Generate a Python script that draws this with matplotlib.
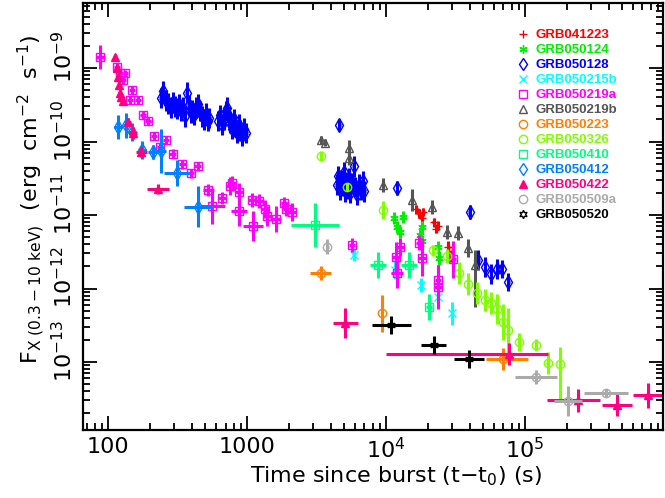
import numpy as np
import matplotlib
matplotlib.use('Agg')
import matplotlib.pyplot as plt
import matplotlib.transforms as mtransforms
from matplotlib.ticker import FixedLocator, FixedFormatter, LogLocator, NullFormatter
from matplotlib.lines import Line2D

plt.rcParams['font.family'] = ['DejaVu Sans']
plt.rcParams['mathtext.fontset'] = 'dejavusans'

# ---- data: time (s), flux (erg/cm2/s), half error widths in dex ----
grb041223_t = [1.65e4, 1.72e4, 1.8e4, 1.85e4, 2.2e4, 2.3e4, 2.35e4, 2.8e4, 2.9e4]
grb041223_f = [1.2e-11, 1.05e-11, 9.0e-12, 1.1e-11, 8.0e-12, 6.5e-12, 7.2e-12, 3.7e-12, 2.8e-12]
grb041223_tdex = [0.01] * 9
grb041223_fdex = [0.06, 0.06, 0.06, 0.06, 0.06, 0.06, 0.06, 0.08, 0.08]

grb050124_t = [1.14e4, 1.2e4, 1.26e4, 1.33e4, 1.76e4, 1.82e4, 1.8e4, 2.37e4, 2.4e4]
grb050124_f = [9.1e-12, 6.9e-12, 5.9e-12, 9.4e-12, 5.35e-12, 6.9e-12, 4.5e-12, 3.7e-12, 2.6e-12]
grb050124_tdex = [0.01] * 9
grb050124_fdex = [0.08, 0.08, 0.08, 0.08, 0.08, 0.08, 0.08, 0.08, 0.1]

grb050128_t = [240, 250, 262, 272, 282, 292, 302, 312, 322, 333, 345, 356, 368, 380, 392,
               405, 418, 432, 446, 460, 475, 490, 505, 520, 535,
               620, 640, 660, 680, 700, 720, 740, 760, 780, 800, 820, 845, 870, 895, 920,
               950, 980,
               4450, 4550, 4650, 4750, 4850, 4950, 5050, 5150, 5250, 5400, 5550, 5700,
               5850, 6000, 6200, 6400, 6600, 6800, 7000,
               4600, 1.2e4, 4.0e4, 4.6e4, 5.15e4, 5.7e4, 6.3e4, 6.8e4, 7.6e4]
grb050128_f = [3.9e-10, 4.8e-10, 3.6e-10, 3.3e-10, 2.9e-10, 3.4e-10, 3.0e-10, 2.8e-10, 3.2e-10,
               2.6e-10, 2.9e-10, 2.2e-10, 4.6e-10, 3.1e-10, 2.5e-10, 2.7e-10, 2.3e-10, 2.9e-10,
               3.2e-10, 2.6e-10, 2.2e-10, 2.0e-10, 2.4e-10, 1.9e-10, 2.1e-10,
               1.9e-10, 2.3e-10, 1.7e-10, 2.0e-10, 2.6e-10, 2.9e-10, 2.2e-10, 1.8e-10, 1.5e-10,
               2.0e-10, 1.6e-10, 1.3e-10, 1.7e-10, 1.4e-10, 1.2e-10, 1.5e-10, 1.3e-10,
               2.6e-11, 3.4e-11, 2.2e-11, 3.0e-11, 2.5e-11, 3.8e-11, 2.1e-11, 2.8e-11, 2.3e-11,
               3.2e-11, 2.0e-11, 2.7e-11, 4.6e-11, 2.4e-11, 1.9e-11, 2.6e-11, 2.2e-11, 2.9e-11,
               2.1e-11,
               1.67e-10, 2.33e-11, 1.1e-11, 2.45e-12, 1.96e-12, 1.57e-12, 1.84e-12, 1.84e-12,
               1.22e-12]
grb050128_tdex = [0.012] * 61 + [0.01, 0.01, 0.01, 0.01, 0.01, 0.01, 0.01, 0.01, 0.01]
grb050128_fdex = [0.14] * 61 + [0.08, 0.1, 0.1, 0.14, 0.14, 0.14, 0.14, 0.12, 0.12]

grb050215b_t = [5860, 1.16e4, 1.79e4, 2.37e4, 2.98e4]
grb050215b_f = [2.86e-12, 1.79e-12, 1.12e-12, 7.7e-13, 4.6e-13]
grb050215b_tdex = [0.01, 0.01, 0.01, 0.01, 0.01]
grb050215b_fdex = [0.08, 0.12, 0.1, 0.12, 0.16]

grb050219a_t = [88, 116, 122, 133, 128, 149, 144, 164, 178, 194, 214, 261, 237, 293, 341, 395,
                443, 525, 560, 660, 755, 780, 875, 875, 1085, 1100, 1220, 1340, 1390, 1610,
                1840, 1910, 2100, 5690, 1.18e4, 1.26e4, 1.2e4, 1.72e4, 1.82e4, 2.37e4, 2.37e4,
                3.03e4]
grb050219a_f = [1.4e-9, 1.03e-9, 8.5e-10, 8.5e-10, 6.9e-10, 5.0e-10, 3.67e-10, 3.67e-10, 2.3e-10,
                1.9e-10, 1.19e-10, 1.05e-10, 8.4e-11, 6.8e-11, 4.9e-11, 3.7e-11, 4.6e-11,
                2.19e-11, 1.33e-11, 1.7e-11, 2.5e-11, 2.7e-11, 2.06e-11, 1.13e-11, 1.6e-11,
                7.1e-12, 1.55e-11, 1.21e-11, 9.7e-12, 8.8e-12, 1.46e-11, 1.21e-11, 1.1e-11,
                3.9e-12, 2.7e-12, 3.7e-12, 1.63e-12, 4.2e-12, 2.6e-12, 1.3e-12, 1.05e-12, 2.5e-12]
grb050219a_tdex = [0.03, 0.02, 0.02, 0.02, 0.02, 0.02, 0.02, 0.02, 0.02, 0.02, 0.02, 0.02, 0.02,
                   0.025, 0.025, 0.025, 0.025, 0.04, 0.09, 0.03, 0.03, 0.03, 0.03, 0.06, 0.03,
                   0.07, 0.03, 0.03, 0.03, 0.04, 0.02, 0.02, 0.03, 0.02, 0.03, 0.03, 0.04, 0.02,
                   0.03, 0.02, 0.03, 0.02]
grb050219a_fdex = [0.16, 0.05, 0.05, 0.05, 0.05, 0.05, 0.05, 0.05, 0.05, 0.05, 0.06, 0.06, 0.06,
                   0.06, 0.06, 0.06, 0.06, 0.08, 0.25, 0.08, 0.12, 0.1, 0.12, 0.2, 0.1, 0.2,
                   0.1, 0.12, 0.14, 0.18, 0.08, 0.1, 0.12, 0.1, 0.2, 0.12, 0.2, 0.1, 0.25, 0.2,
                   0.3, 0.25]

grb050219b_t = [3400, 3650, 5420, 5420, 9500, 1.54e4, 2.14e4, 2.75e4, 3.3e4, 3.9e4, 4.4e4]
grb050219b_f = [1.05e-10, 9.6e-11, 8.2e-11, 6.0e-11, 2.56e-11, 1.6e-11, 1.29e-11, 5.9e-12,
                5.7e-12, 3.56e-12, 2.09e-12]
grb050219b_tdex = [0.01] * 11
grb050219b_fdex = [0.05, 0.05, 0.1, 0.1, 0.1, 0.15, 0.1, 0.1, 0.1, 0.12, (0.57, 0.2)]

grb050223_t = [3400, 9350, 6.95e4]
grb050223_f = [1.63e-12, 4.6e-13, 1.1e-13]
grb050223_tdex = [0.075, 0.01, (0.12, 0.18)]
grb050223_fdex = [0.1, 0.25, 0.15]

grb050326_t = [3400, 5240, 9500, 2.18e4, 2.75e4, 3.35e4, 3.9e4, 4.5e4, 5.15e4, 5.7e4, 6.3e4,
               6.9e4, 7.6e4, 9.06e4, 1.2e5, 1.46e5, 1.79e5]
grb050326_f = [6.4e-11, 2.4e-11, 1.17e-11, 3.3e-12, 2.77e-12, 1.63e-12, 1.15e-12, 8.7e-13,
               7.0e-13, 6.3e-13, 5.3e-13, 3.5e-13, 2.7e-13, 1.87e-13, 1.7e-13, 9.7e-14, 9.4e-14]
grb050326_tdex = [0.01] * 17
grb050326_fdex = [0.07, 0.05, 0.12, 0.08, 0.1, 0.15, 0.15, 0.15, 0.15, 0.15, 0.2, 0.25, 0.3,
                  0.12, 0.08, 0.15, (0.49, 0.23)]

grb050410_t = [3080, 8750, 1.46e4, 2.04e4]
grb050410_f = [7.3e-12, 2.09e-12, 2.09e-12, 5.6e-13]
grb050410_tdex = [0.17, 0.06, 0.06, 0.02]
grb050410_fdex = [0.3, 0.18, 0.18, 0.18]

grb050412_t = [118, 135, 149, 176, 211, 240, 313, 443]
grb050412_f = [1.57e-10, 1.67e-10, 1.35e-10, 7.7e-11, 7.2e-11, 7.4e-11, 3.7e-11, 1.29e-11]
grb050412_tdex = [0.03, 0.02, 0.03, 0.03, 0.04, 0.04, 0.09, 0.1]
grb050412_fdex = [0.16, 0.17, 0.12, 0.12, 0.1, 0.3, 0.18, 0.28]

grb050422_t = [112, 115, 117, 119, 121, 124, 128, 139, 151, 173, 229, 5070, 7.7e4, 2.4e5,
               4.6e5, 7.7e5]
grb050422_f = [1.4e-9, 1.0e-9, 7.5e-10, 5.8e-10, 4.6e-10, 4.0e-10, 3.6e-10, 1.84e-10, 1.3e-10,
               7.2e-11, 2.26e-11, 3.4e-13, 1.29e-13, 3.0e-14, 2.6e-14, 3.56e-14]
grb050422_tdex = [0.01, 0.01, 0.01, 0.01, 0.01, 0.01, 0.01, 0.02, 0.03, 0.04, 0.08, 0.09,
                  (0.89, 0.28), (0.22, 0.16), 0.11, 0.11]
grb050422_fdex = [0.04, 0.04, 0.04, 0.04, 0.04, 0.04, 0.04, 0.06, 0.08, 0.07, 0.07, 0.2,
                  0.15, 0.15, 0.15, 0.17]

grb050509a_t = [3770, 1.2e5, 2.04e5, 3.83e5]
grb050509a_f = [3.7e-12, 6.25e-14, 2.94e-14, 3.8e-14]
grb050509a_tdex = [0.01, 0.15, 0.1, 0.16]
grb050509a_fdex = [0.1, 0.1, 0.2, 0.05]

grb050520_t = [1.09e4, 2.2e4, 3.96e4]
grb050520_f = [3.2e-13, 1.7e-13, 1.1e-13]
grb050520_tdex = [0.14, 0.09, 0.11]
grb050520_fdex = [0.12, 0.12, 0.12]

grb_names = ['GRB041223', 'GRB050124', 'GRB050128', 'GRB050215b', 'GRB050219a',
             'GRB050219b', 'GRB050223', 'GRB050326', 'GRB050410', 'GRB050412',
             'GRB050422', 'GRB050509a', 'GRB050520']
x_tick_values = [100, 1000, 1e4, 1e5]
x_tick_labels = ['100', '1000', r'$10^4$', r'$10^5$']
y_tick_values = [1e-13, 1e-12, 1e-11, 1e-10, 1e-9]


def split_dex(d):
    lo = np.array([v[0] if isinstance(v, tuple) else v for v in d], float)
    hi = np.array([v[1] if isinstance(v, tuple) else v for v in d], float)
    return lo, hi


fig = plt.figure(figsize=(6.65, 4.98), dpi=100)
ax = fig.add_axes([83 / 665, 68 / 498, 580 / 665, 427 / 498])
ax.set_xscale('log')
ax.set_yscale('log')


def plot_grb(t, f, tdex, fdex, color, marker, ms=6, filled=False):
    t = np.asarray(t, float)
    f = np.asarray(f, float)
    tlo, thi = split_dex(tdex)
    flo, fhi = split_dex(fdex)
    ax.errorbar(t, f, xerr=[t - t * 10 ** -tlo, t * 10 ** thi - t],
                yerr=[f - f * 10 ** -flo, f * 10 ** fhi - f],
                fmt='none', ecolor=color, elinewidth=2.2, capsize=0)
    ax.plot(t, f, ls='none', marker=marker, ms=ms, mec=color,
            mfc=color if filled else 'none', mew=1)


series = [
    (grb041223_t, grb041223_f, grb041223_tdex, grb041223_fdex, '#ff0000', '+', False),
    (grb050124_t, grb050124_f, grb050124_tdex, grb050124_fdex, '#00ee00', (6, 2, 0), False),
    (grb050128_t, grb050128_f, grb050128_tdex, grb050128_fdex, '#0000ff', 'd', False),
    (grb050215b_t, grb050215b_f, grb050215b_tdex, grb050215b_fdex, '#00ffff', 'x', False),
    (grb050219a_t, grb050219a_f, grb050219a_tdex, grb050219a_fdex, '#ff00ff', 's', False),
    (grb050219b_t, grb050219b_f, grb050219b_tdex, grb050219b_fdex, '#555555', '^', False),
    (grb050223_t, grb050223_f, grb050223_tdex, grb050223_fdex, '#ff8000', 'o', False),
    (grb050326_t, grb050326_f, grb050326_tdex, grb050326_fdex, '#80ff00', 'o', False),
    (grb050410_t, grb050410_f, grb050410_tdex, grb050410_fdex, '#00ff80', 's', False),
    (grb050412_t, grb050412_f, grb050412_tdex, grb050412_fdex, '#0080ff', 'd', False),
    (grb050422_t, grb050422_f, grb050422_tdex, grb050422_fdex, '#ff0080', '^', True),
    (grb050509a_t, grb050509a_f, grb050509a_tdex, grb050509a_fdex, '#aaaaaa', 'o', False),
    (grb050520_t, grb050520_f, grb050520_tdex, grb050520_fdex, '#000000', (6, 1, 0), False),
]

for t, f, td, fd, c, m, filled in series:
    size = 7.5 if m == 'd' else 6
    plot_grb(t, f, td, fd, c, m, ms=size, filled=filled)

ax.set_xlim(66, 9.84e5)
ax.set_ylim(1.19e-14, 7.66e-9)

ax.xaxis.set_major_locator(FixedLocator(x_tick_values))
ax.xaxis.set_major_formatter(FixedFormatter(x_tick_labels))
ax.xaxis.set_minor_locator(LogLocator(base=10, subs=np.arange(2, 10), numticks=20))
ax.xaxis.set_minor_formatter(NullFormatter())
ax.yaxis.set_major_locator(FixedLocator(y_tick_values))
ax.yaxis.set_minor_locator(LogLocator(base=10, subs=np.arange(2, 10), numticks=20))
ax.yaxis.set_minor_formatter(NullFormatter())

for sp in ax.spines.values():
    sp.set_linewidth(1.6)
ax.tick_params(which='both', direction='in', top=True, right=True, width=1.3,
               labelsize=16, pad=5)
ax.tick_params(which='major', length=10)
ax.tick_params(which='minor', length=5)
ax.tick_params(axis='y', labelrotation=90)

ax.set_xlabel(r'Time since burst (t$-$t$_0$) (s)', fontsize=16)
ax.xaxis.set_label_coords(0.54, -0.08)
ax.set_ylabel(r'F$_{\rm X\ (0.3-10\ keV)}$  (erg  cm$^{-2}$  s$^{-1}$)', fontsize=16)
ax.yaxis.set_label_coords(-0.062, 0.54)

handles = [Line2D([], [], ls='none', marker=m, ms=6, mec=c, mfc=c if filled else 'none', mew=1)
           for _, _, _, _, c, m, filled in series]
colors = [s[4] for s in series]
leg = ax.legend(handles, grb_names, loc='upper left',
                bbox_to_anchor=(516 / 665, 1 - 29 / 498), bbox_transform=fig.transFigure,
                frameon=False,
                prop={'family': 'Liberation Sans', 'weight': 'bold', 'size': 9.5},
                labelcolor=colors, handlelength=1.0, handletextpad=0.5, labelspacing=0.21,
                borderpad=0, borderaxespad=0)

fig.canvas.draw()
offset = mtransforms.ScaledTranslation(0, 11 / 100, fig.dpi_scale_trans)
for lab in ax.get_yticklabels():
    lab.set_va('center')
    lab.set_transform(lab.get_transform() + offset)

fig.savefig('out.png', dpi=100)
